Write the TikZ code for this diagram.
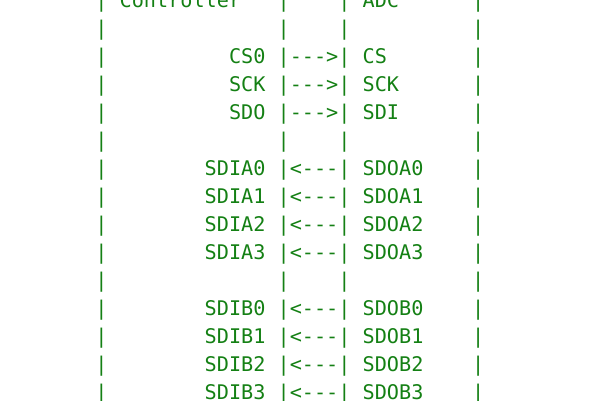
\documentclass[tikz,border=0pt]{standalone}
\usepackage{fontspec}
\setmonofont{DejaVu Sans Mono}
\definecolor{termgreen}{RGB}{20,128,20}

\tikzset{
  cell/.style={anchor=base west, inner sep=0pt, outer sep=0pt,
    font=\ttfamily\fontsize{20.18}{28}\selectfont, text=termgreen},
  lbl/.style={cell, anchor=base east},
}

\begin{document}
\begin{tikzpicture}[x=12.15pt, y=-28pt]

\useasboundingbox (0,0) rectangle (49.383,14.2857);

\begin{scope}[shift={(7.85,0.285)}]

% frame bars
\foreach \r in {0,...,14}{
  \foreach \c in {0,15,20,31}
    \node[cell] (bar-\r-\c) at (\c,\r) {|};
}

% titles
\node[cell] (ctrl) at (2,0) {Controller};
\node[cell] (adc) at (22,0) {ADC};

% controller -> adc
\foreach \r/\a/\b in {2/CS0/CS, 3/SCK/SCK, 4/SDO/SDI}{
  \node[lbl] (out-\r) at (14,\r) {\a};
  \node[cell] (to-\r) at (16,\r) {--->};
  \node[cell] (in-\r) at (22,\r) {\b};
}

% adc -> controller, lane A
\foreach \r/\n in {6/0, 7/1, 8/2, 9/3}{
  \node[lbl] (sdia\n) at (14,\r) {SDIA\n};
  \node[cell] (from-\r) at (16,\r) {<---};
  \node[cell] (sdoa\n) at (22,\r) {SDOA\n};
}

% adc -> controller, lane B
\foreach \r/\n in {11/0, 12/1, 13/2, 14/3}{
  \node[lbl] (sdib\n) at (14,\r) {SDIB\n};
  \node[cell] (from-\r) at (16,\r) {<---};
  \node[cell] (sdob\n) at (22,\r) {SDOB\n};
}

\end{scope}

\end{tikzpicture}
\end{document}
